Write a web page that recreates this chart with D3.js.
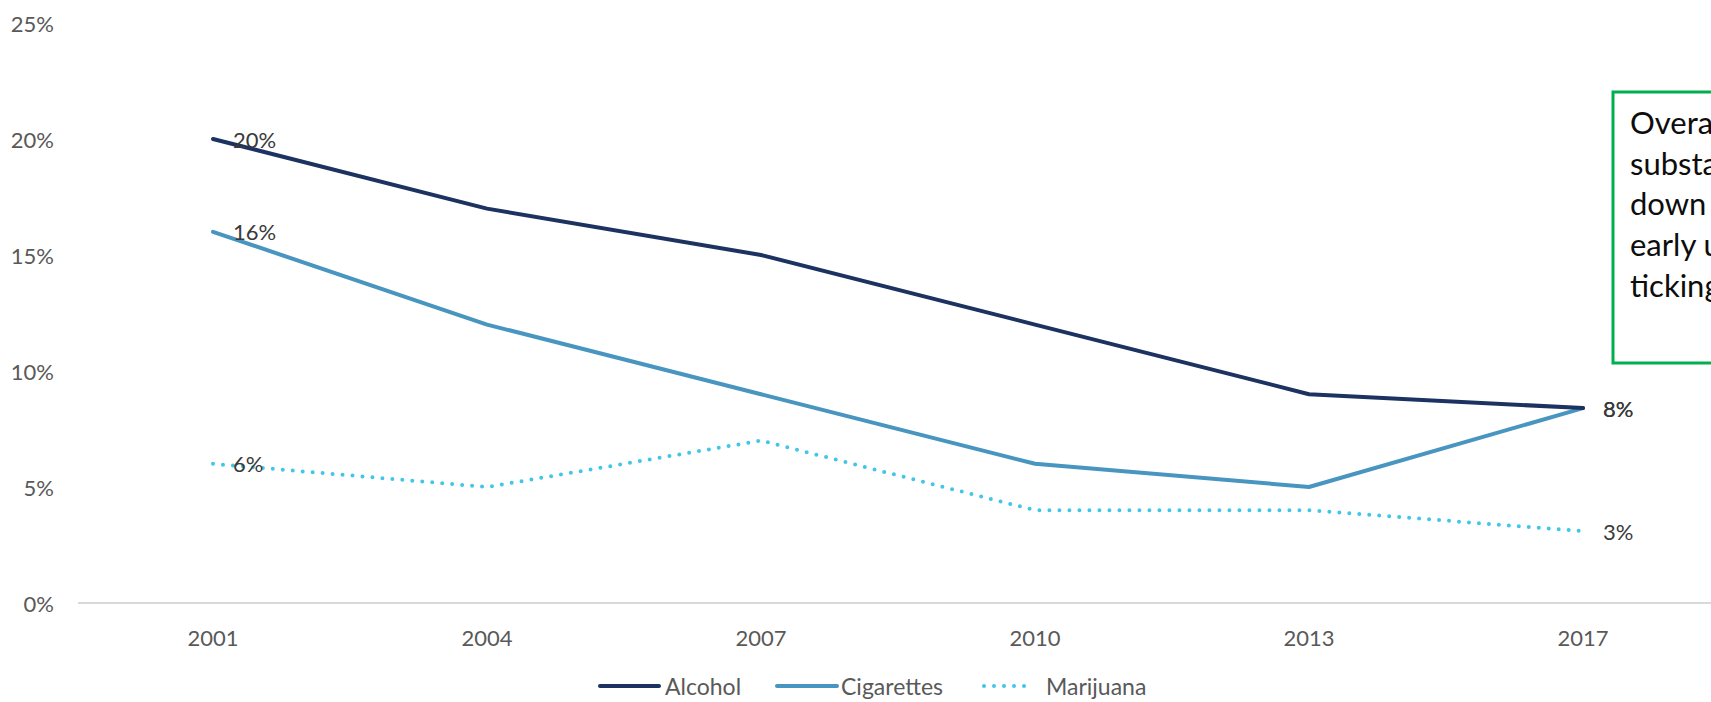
<!DOCTYPE html>
<html>
<head>
<meta charset="utf-8">
<script src="https://cdn.jsdelivr.net/npm/d3@7"></script>
<style>
  html, body { margin: 0; padding: 0; background: #fff; overflow: hidden; }
  svg { display: block; }
</style>
</head>
<body>
<svg id="chart" width="1711" height="702"></svg>
<script>
const years = ["2001", "2004", "2007", "2010", "2013", "2017"];
const alcohol = [20, 17, 15, 12, 9, 8.4];
const cigarettes = [16, 12, 9, 6, 5, 8.4];
const marijuana = [6, 5, 7, 4, 4, 3.1];
const seriesNames = ["Alcohol", "Cigarettes", "Marijuana"];
const yTicks = [0, 5, 10, 15, 20, 25];
const noteLines = [
  "Overall, youth",
  "substance use is trending",
  "down",
  "early use of cigarettes is",
  "ticking up."
];

const colors = { Alcohol: "#1c3260", Cigarettes: "#4895c0", Marijuana: "#41c6e9" };
const dashes = { Alcohol: null, Cigarettes: null, Marijuana: "0 10" };
const font = "Lato, 'Open Sans', sans-serif";

const svg = d3.select("#chart");

const x = d3.scaleBand().domain(years).range([76, 1720]).paddingInner(0).paddingOuter(0);
const cx = d => x(d) + x.bandwidth() / 2;
const y = d3.scaleLinear().domain([0, 25]).range([603, 23]);

// x axis line
svg.append("line")
  .attr("x1", 78).attr("x2", 1711)
  .attr("y1", y(0)).attr("y2", y(0))
  .attr("stroke", "#d9d9d9").attr("stroke-width", 2);

// y tick labels
svg.append("g").selectAll("text").data(yTicks).join("text")
  .attr("x", 54).attr("y", d => y(d))
  .attr("text-anchor", "end").attr("dominant-baseline", "central")
  .attr("font-family", font).attr("font-size", 22).attr("fill", "#595959")
  .text(d => d + "%");

// x tick labels
svg.append("g").selectAll("text").data(years).join("text")
  .attr("x", d => cx(d)).attr("y", 637)
  .attr("text-anchor", "middle").attr("dominant-baseline", "central")
  .attr("font-family", font).attr("font-size", 22).attr("fill", "#595959")
  .text(d => d);

const series = [
  { name: "Alcohol", values: alcohol },
  { name: "Cigarettes", values: cigarettes },
  { name: "Marijuana", values: marijuana }
];

const line = d3.line().x((d, i) => cx(years[i])).y(d => y(d));

[series[2], series[1], series[0]].forEach(s => {
  svg.append("path")
    .attr("d", line(s.values))
    .attr("fill", "none")
    .attr("stroke", colors[s.name])
    .attr("stroke-width", 4)
    .attr("stroke-linecap", "round")
    .attr("stroke-linejoin", "round")
    .attr("stroke-dasharray", dashes[s.name]);
});

// end labels
const fmt = v => d3.format(".0f")(v) + "%";
series.forEach(s => {
  [0, years.length - 1].forEach(i => {
    svg.append("text")
      .attr("x", cx(years[i]) + 20).attr("y", y(s.values[i]))
      .attr("dominant-baseline", "central")
      .attr("font-family", font).attr("font-size", 22).attr("fill", "#3a3a3a")
      .text(fmt(s.values[i]));
  });
});

// legend
const legendItems = [
  { name: "Alcohol", lx: 600, lw: 59, tx: 665 },
  { name: "Cigarettes", lx: 777, lw: 60, tx: 841 },
  { name: "Marijuana", lx: 984, lw: 50, tx: 1046 }
];
const legendY = 686;
const lg = svg.append("g");
legendItems.forEach(it => {
  lg.append("line")
    .attr("x1", it.lx).attr("x2", it.lx + it.lw)
    .attr("y1", legendY).attr("y2", legendY)
    .attr("stroke", colors[it.name]).attr("stroke-width", 4)
    .attr("stroke-linecap", "round")
    .attr("stroke-dasharray", dashes[it.name]);
  lg.append("text")
    .attr("x", it.tx).attr("y", legendY)
    .attr("dominant-baseline", "central")
    .attr("font-family", font).attr("font-size", 23).attr("fill", "#595959")
    .text(it.name);
});

// annotation box
const box = svg.append("g");
box.append("rect")
  .attr("x", 1613).attr("y", 92).attr("width", 400).attr("height", 271)
  .attr("fill", "#fff").attr("stroke", "#00b050").attr("stroke-width", 3);
box.append("g").selectAll("text").data(noteLines).join("text")
  .attr("x", 1630).attr("y", (d, i) => 134 + i * 40.7)
  .attr("font-family", font).attr("font-size", 31).attr("fill", "#0d0d0d")
  .text(d => d);
</script>
</body>
</html>
